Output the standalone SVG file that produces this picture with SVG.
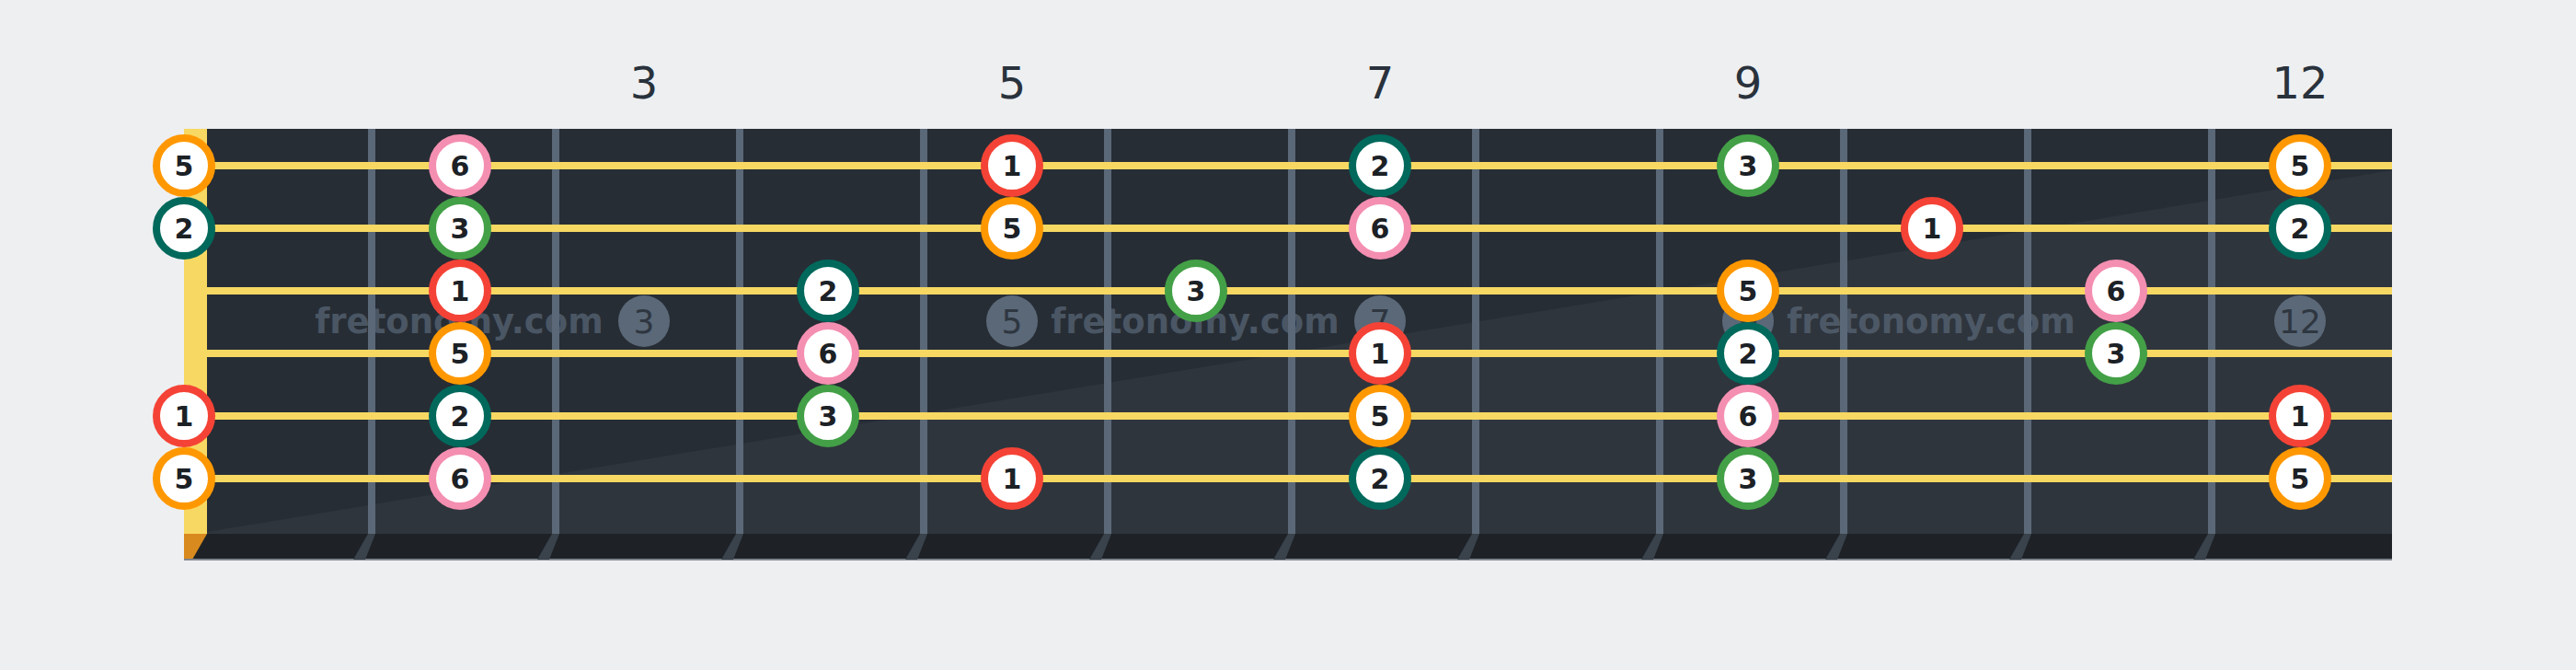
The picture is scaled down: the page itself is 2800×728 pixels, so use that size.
<svg xmlns="http://www.w3.org/2000/svg" width="2800" height="728" viewBox="0 0 2800 728">
<style>
.lbl{font-family:"DejaVu Sans","Liberation Sans",sans-serif;font-size:48px;fill:#29323c;text-anchor:middle}
.fret{fill:#5a6878}
.str{stroke:#f7d862;stroke-width:8}
.inlay{fill:#5a6878}
.inl{font-family:"DejaVu Sans","Liberation Sans",sans-serif;font-size:36px;fill:#2e3640;text-anchor:middle}
.wm{font-family:"DejaVu Sans","Liberation Sans",sans-serif;font-weight:bold;font-size:37px;fill:#5a6878;opacity:0.7;text-anchor:middle}
.n circle{fill:#fff;stroke-width:8}
.n text{font-family:"DejaVu Sans","Liberation Sans",sans-serif;font-weight:bold;font-size:30px;fill:#1c2126;text-anchor:middle}
.c1 circle{stroke:#f44336}
.c2 circle{stroke:#00695c}
.c3 circle{stroke:#43a047}
.c5 circle{stroke:#ff9800}
.c6 circle{stroke:#f48fb1}
</style>
<rect width="2800" height="728" fill="#eeeff1"/>
<g id="fret-labels">
<text class="lbl" x="700" y="107">3</text>
<text class="lbl" x="1100" y="107">5</text>
<text class="lbl" x="1500" y="107">7</text>
<text class="lbl" x="1900" y="107">9</text>
<text class="lbl" x="2500" y="107">12</text>
</g>
<g id="fretboard">
<rect x="225" y="140" width="2375" height="440" fill="#272d35"/>
<polygon points="225,578 2600,185 2600,580 225,580" fill="#2f353d"/>
<rect x="200" y="580" width="2400" height="28" fill="#1e2226"/>
<polygon points="200,580 225,580 209,608 200,608" fill="#d98a1e"/>
<rect x="200" y="607" width="2400" height="2" fill="#80868e"/>
<rect x="200" y="140" width="25" height="440" fill="#f7d862"/>
<g class="fret">
<rect x="400" y="140" width="8" height="440"/><polygon points="400,580 408,580 397,608 384,608" fill="#3a424c"/>
<rect x="600" y="140" width="8" height="440"/><polygon points="600,580 608,580 597,608 584,608" fill="#3a424c"/>
<rect x="800" y="140" width="8" height="440"/><polygon points="800,580 808,580 797,608 784,608" fill="#3a424c"/>
<rect x="1000" y="140" width="8" height="440"/><polygon points="1000,580 1008,580 997,608 984,608" fill="#3a424c"/>
<rect x="1200" y="140" width="8" height="440"/><polygon points="1200,580 1208,580 1197,608 1184,608" fill="#3a424c"/>
<rect x="1400" y="140" width="8" height="440"/><polygon points="1400,580 1408,580 1397,608 1384,608" fill="#3a424c"/>
<rect x="1600" y="140" width="8" height="440"/><polygon points="1600,580 1608,580 1597,608 1584,608" fill="#3a424c"/>
<rect x="1800" y="140" width="8" height="440"/><polygon points="1800,580 1808,580 1797,608 1784,608" fill="#3a424c"/>
<rect x="2000" y="140" width="8" height="440"/><polygon points="2000,580 2008,580 1997,608 1984,608" fill="#3a424c"/>
<rect x="2200" y="140" width="8" height="440"/><polygon points="2200,580 2208,580 2197,608 2184,608" fill="#3a424c"/>
<rect x="2400" y="140" width="8" height="440"/><polygon points="2400,580 2408,580 2397,608 2384,608" fill="#3a424c"/>
</g>
<g id="inlays">
<circle class="inlay" cx="700" cy="349" r="28"/><text class="inl" x="700" y="362">3</text>
<circle class="inlay" cx="1100" cy="349" r="28"/><text class="inl" x="1100" y="362">5</text>
<circle class="inlay" cx="1500" cy="349" r="28"/><text class="inl" x="1500" y="362">7</text>
<circle class="inlay" cx="1900" cy="349" r="28"/><text class="inl" x="1900" y="362">9</text>
<circle class="inlay" cx="2500" cy="349" r="28"/><text class="inl" x="2500" y="362">12</text>
</g>
<g id="watermark">
<text class="wm" x="499" y="362">fretonomy.com</text>
<text class="wm" x="1299" y="362">fretonomy.com</text>
<text class="wm" x="2099" y="362">fretonomy.com</text>
</g>
<g id="strings">
<line class="str" x1="225" y1="180" x2="2600" y2="180"/>
<line class="str" x1="225" y1="248" x2="2600" y2="248"/>
<line class="str" x1="225" y1="316" x2="2600" y2="316"/>
<line class="str" x1="225" y1="384" x2="2600" y2="384"/>
<line class="str" x1="225" y1="452" x2="2600" y2="452"/>
<line class="str" x1="225" y1="520" x2="2600" y2="520"/>
</g>
</g>
<g id="notes">
<g id="n1-0" class="n c5"><circle cx="200" cy="180" r="30"/><text x="200" y="191">5</text></g>
<g id="n1-2" class="n c6"><circle cx="500" cy="180" r="30"/><text x="500" y="191">6</text></g>
<g id="n1-5" class="n c1"><circle cx="1100" cy="180" r="30"/><text x="1100" y="191">1</text></g>
<g id="n1-7" class="n c2"><circle cx="1500" cy="180" r="30"/><text x="1500" y="191">2</text></g>
<g id="n1-9" class="n c3"><circle cx="1900" cy="180" r="30"/><text x="1900" y="191">3</text></g>
<g id="n1-12" class="n c5"><circle cx="2500" cy="180" r="30"/><text x="2500" y="191">5</text></g>

<g id="n2-0" class="n c2"><circle cx="200" cy="248" r="30"/><text x="200" y="259">2</text></g>
<g id="n2-2" class="n c3"><circle cx="500" cy="248" r="30"/><text x="500" y="259">3</text></g>
<g id="n2-5" class="n c5"><circle cx="1100" cy="248" r="30"/><text x="1100" y="259">5</text></g>
<g id="n2-7" class="n c6"><circle cx="1500" cy="248" r="30"/><text x="1500" y="259">6</text></g>
<g id="n2-10" class="n c1"><circle cx="2100" cy="248" r="30"/><text x="2100" y="259">1</text></g>
<g id="n2-12" class="n c2"><circle cx="2500" cy="248" r="30"/><text x="2500" y="259">2</text></g>

<g id="n3-2" class="n c1"><circle cx="500" cy="316" r="30"/><text x="500" y="327">1</text></g>
<g id="n3-4" class="n c2"><circle cx="900" cy="316" r="30"/><text x="900" y="327">2</text></g>
<g id="n3-6" class="n c3"><circle cx="1300" cy="316" r="30"/><text x="1300" y="327">3</text></g>
<g id="n3-9" class="n c5"><circle cx="1900" cy="316" r="30"/><text x="1900" y="327">5</text></g>
<g id="n3-11" class="n c6"><circle cx="2300" cy="316" r="30"/><text x="2300" y="327">6</text></g>

<g id="n4-2" class="n c5"><circle cx="500" cy="384" r="30"/><text x="500" y="395">5</text></g>
<g id="n4-4" class="n c6"><circle cx="900" cy="384" r="30"/><text x="900" y="395">6</text></g>
<g id="n4-7" class="n c1"><circle cx="1500" cy="384" r="30"/><text x="1500" y="395">1</text></g>
<g id="n4-9" class="n c2"><circle cx="1900" cy="384" r="30"/><text x="1900" y="395">2</text></g>
<g id="n4-11" class="n c3"><circle cx="2300" cy="384" r="30"/><text x="2300" y="395">3</text></g>

<g id="n5-0" class="n c1"><circle cx="200" cy="452" r="30"/><text x="200" y="463">1</text></g>
<g id="n5-2" class="n c2"><circle cx="500" cy="452" r="30"/><text x="500" y="463">2</text></g>
<g id="n5-4" class="n c3"><circle cx="900" cy="452" r="30"/><text x="900" y="463">3</text></g>
<g id="n5-7" class="n c5"><circle cx="1500" cy="452" r="30"/><text x="1500" y="463">5</text></g>
<g id="n5-9" class="n c6"><circle cx="1900" cy="452" r="30"/><text x="1900" y="463">6</text></g>
<g id="n5-12" class="n c1"><circle cx="2500" cy="452" r="30"/><text x="2500" y="463">1</text></g>

<g id="n6-0" class="n c5"><circle cx="200" cy="520" r="30"/><text x="200" y="531">5</text></g>
<g id="n6-2" class="n c6"><circle cx="500" cy="520" r="30"/><text x="500" y="531">6</text></g>
<g id="n6-5" class="n c1"><circle cx="1100" cy="520" r="30"/><text x="1100" y="531">1</text></g>
<g id="n6-7" class="n c2"><circle cx="1500" cy="520" r="30"/><text x="1500" y="531">2</text></g>
<g id="n6-9" class="n c3"><circle cx="1900" cy="520" r="30"/><text x="1900" y="531">3</text></g>
<g id="n6-12" class="n c5"><circle cx="2500" cy="520" r="30"/><text x="2500" y="531">5</text></g>
</g>
</svg>
